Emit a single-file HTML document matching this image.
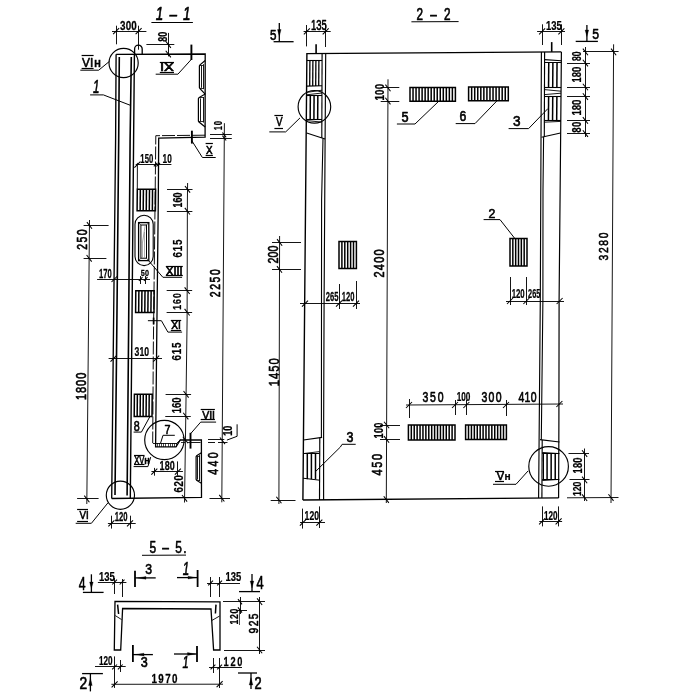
<!DOCTYPE html>
<html lang="ru">
<head>
<meta charset="utf-8">
<title>1-1, 2-2, 5-5</title>
<style>
html,body{margin:0;padding:0;background:#fff;}
body{width:700px;height:700px;overflow:hidden;}
svg{display:block;}
svg text{font-family:"Liberation Sans", "DejaVu Sans", sans-serif;fill:#050505;stroke:#050505;font-weight:bold;stroke-width:0.25px;stroke-linejoin:round;}
</style>
</head>
<body>
<svg width="700" height="700" viewBox="0 0 700 700" stroke="#050505" stroke-linecap="butt" fill="none">
<defs><filter id="sc" x="0" y="0" width="700" height="700" filterUnits="userSpaceOnUse"><feGaussianBlur stdDeviation="0.22"/></filter></defs>
<rect x="0" y="0" width="700" height="700" fill="#ffffff" stroke="none"/>
<g filter="url(#sc)">
<text transform="translate(156.4,20.3) scale(0.75,1)" x="-0.81" y="0" style="font-size:18.02px;font-weight:normal;stroke-width:0.65px;font-style:italic;letter-spacing:1.59px;">1 – 1</text>
<line x1="151.4" y1="22.5" x2="192.9" y2="22.5" stroke-width="1"/>
<path d="M116.1,54.3 L115.6,140 L113.6,320 L111.7,498.5" stroke-width="1.35" fill="none"/>
<path d="M119.3,57.1 L118.7,140 L116.9,320 L115,495.1" stroke-width="1.6" fill="none"/>
<path d="M131.3,57.1 L130.1,140 L128.7,320 L127.1,495.4" stroke-width="1.6" fill="none"/>
<path d="M134.4,54.3 L133.6,140 L132,320 L130.3,498.5" stroke-width="1.4" fill="none"/>
<path d="M116.1,54.3 L205.2,54 L205.1,137.2 L158.7,138.2 L158.3,200 L156.6,350 L155.6,446.9 L176,446.9 L180.3,440 L201.4,439.8 L201.5,497.4 L111.7,498.5" stroke-width="1.3" fill="none"/>
<path d="M205,135.2 L155.8,135.7 L155.1,200 L153.3,350 L152.7,443" stroke-width="0.95" fill="none" stroke-dasharray="13 2"/>
<line x1="152.9" y1="443.5" x2="177" y2="443.5" stroke-width="0.9"/>
<line x1="177" y1="443" x2="180.3" y2="440" stroke-width="0.9"/>
<line x1="157.5" y1="443" x2="157.5" y2="446.9" stroke-width="0.7"/>
<line x1="159.5" y1="443" x2="159.5" y2="446.9" stroke-width="0.7"/>
<line x1="161.5" y1="443" x2="161.5" y2="446.9" stroke-width="0.7"/>
<line x1="163.5" y1="443" x2="163.5" y2="446.9" stroke-width="0.7"/>
<line x1="165.5" y1="443" x2="165.5" y2="446.9" stroke-width="0.7"/>
<line x1="168.5" y1="443" x2="168.5" y2="446.9" stroke-width="0.7"/>
<line x1="170.5" y1="443" x2="170.5" y2="446.9" stroke-width="0.7"/>
<line x1="172.5" y1="443" x2="172.5" y2="446.9" stroke-width="0.7"/>
<line x1="174.5" y1="443" x2="174.5" y2="446.9" stroke-width="0.7"/>
<line x1="176.5" y1="443" x2="176.5" y2="446.9" stroke-width="0.7"/>
<line x1="190.7" y1="442.5" x2="200.6" y2="442.5" stroke-width="0.9"/>
<line x1="181" y1="442.5" x2="190" y2="442.5" stroke-width="0.8" stroke-dasharray="4 2"/>
<path d="M134.6,54.3 V49 a3.8,3.9 0 0 1 7.6,0 V54.3" stroke-width="1.3" fill="none"/>
<line x1="191.4" y1="44.6" x2="191.4" y2="60" stroke-width="1.9"/>
<line x1="191.9" y1="130.7" x2="191.9" y2="143.6" stroke-width="1.9"/>
<line x1="190.5" y1="432.8" x2="190.5" y2="448.6" stroke-width="1.9"/>
<line x1="153.6" y1="317.6" x2="153.6" y2="324.4" stroke-width="1.7"/>
<path d="M205.2,60.5 L200,64.8 L199.4,65.8 L199.4,87.6 L200,88.6 L205.2,94.1" stroke-width="1.2" fill="none"/>
<line x1="201.5" y1="65.6" x2="201.5" y2="87.8" stroke-width="0.9"/>
<line x1="203.5" y1="64.2" x2="203.5" y2="89.2" stroke-width="0.9"/>
<line x1="200" y1="65.5" x2="203.4" y2="65.5" stroke-width="0.8"/>
<line x1="200" y1="88.5" x2="203.4" y2="88.5" stroke-width="0.8"/>
<path d="M205.2,93.9 L199,97.6 L198.4,98.6 L198.4,121 L199,122 L205.2,127" stroke-width="1.2" fill="none"/>
<line x1="200.5" y1="98.4" x2="200.5" y2="121.2" stroke-width="0.9"/>
<line x1="203.5" y1="97" x2="203.5" y2="122.6" stroke-width="0.9"/>
<line x1="199" y1="97.5" x2="203.4" y2="97.5" stroke-width="0.8"/>
<line x1="199" y1="121.5" x2="203.4" y2="121.5" stroke-width="0.8"/>
<path d="M201.4,452.8 L196.7,455.7 L196.1,456.7 L196.1,479.4 L196.7,480.4 L201.4,483.2" stroke-width="1.2" fill="none"/>
<line x1="197.5" y1="456.5" x2="197.5" y2="479.6" stroke-width="0.9"/>
<line x1="199.5" y1="455.1" x2="199.5" y2="481" stroke-width="0.9"/>
<line x1="196.7" y1="456.5" x2="199.6" y2="456.5" stroke-width="0.8"/>
<line x1="196.7" y1="480.5" x2="199.6" y2="480.5" stroke-width="0.8"/>
<circle cx="123.6" cy="63" r="14.6" stroke-width="1.15" fill="none"/>
<circle cx="120.4" cy="495.2" r="14.1" stroke-width="1.15" fill="none"/>
<circle cx="164.4" cy="440" r="19.7" stroke-width="1.15" fill="none"/>
<rect x="135" y="215.2" width="18.2" height="50.4" rx="9.1" ry="9.1" stroke-width="1.1" fill="none"/>
<rect x="138.6" y="222.6" width="10.2" height="38" stroke-width="1.3" fill="none"/>
<rect x="140.9" y="225" width="5.6" height="33.2" stroke-width="1.0" fill="none"/>
<line x1="145.2" y1="225.4" x2="142.4" y2="243" stroke-width="0.6" stroke="#666"/>
<line x1="142.5" y1="243" x2="142.5" y2="257.6" stroke-width="0.6" stroke="#777"/>
<line x1="144.5" y1="232" x2="144.5" y2="257.6" stroke-width="0.6" stroke="#777"/>
<line x1="138.6" y1="222.6" x2="140.7" y2="224.8" stroke-width="0.7"/>
<line x1="148.8" y1="222.6" x2="146.7" y2="224.8" stroke-width="0.7"/>
<line x1="138.6" y1="260.6" x2="140.7" y2="258.4" stroke-width="0.7"/>
<line x1="148.8" y1="260.6" x2="146.7" y2="258.4" stroke-width="0.7"/>
<line x1="140.35" y1="189.3" x2="140.15" y2="210.8" stroke-width="1.5"/>
<line x1="143.4" y1="189.3" x2="143.2" y2="210.8" stroke-width="1.5"/>
<line x1="146.45" y1="189.3" x2="146.25" y2="210.8" stroke-width="1.5"/>
<line x1="149.5" y1="189.3" x2="149.3" y2="210.8" stroke-width="1.5"/>
<line x1="152.55" y1="189.3" x2="152.35" y2="210.8" stroke-width="1.5"/>
<path d="M137.3,189.3 L155.6,189.3 L155.4,210.8 L137.1,210.8 Z" stroke-width="1.5" fill="none"/>
<line x1="138.87" y1="290.7" x2="138.67" y2="312.4" stroke-width="1.5"/>
<line x1="141.93" y1="290.7" x2="141.73" y2="312.4" stroke-width="1.5"/>
<line x1="145" y1="290.7" x2="144.8" y2="312.4" stroke-width="1.5"/>
<line x1="148.07" y1="290.7" x2="147.87" y2="312.4" stroke-width="1.5"/>
<line x1="151.13" y1="290.7" x2="150.93" y2="312.4" stroke-width="1.5"/>
<path d="M135.8,290.7 L154.2,290.7 L154,312.4 L135.6,312.4 Z" stroke-width="1.5" fill="none"/>
<line x1="137.37" y1="394.3" x2="137.17" y2="416.4" stroke-width="1.5"/>
<line x1="140.33" y1="394.3" x2="140.13" y2="416.4" stroke-width="1.5"/>
<line x1="143.3" y1="394.3" x2="143.1" y2="416.4" stroke-width="1.5"/>
<line x1="146.27" y1="394.3" x2="146.07" y2="416.4" stroke-width="1.5"/>
<line x1="149.23" y1="394.3" x2="149.03" y2="416.4" stroke-width="1.5"/>
<path d="M134.4,394.3 L152.2,394.3 L152,416.4 L134.2,416.4 Z" stroke-width="1.5" fill="none"/>
<line x1="112" y1="31.5" x2="146.4" y2="31.5" stroke-width="0.92"/>
<line x1="116.5" y1="25.7" x2="116.5" y2="44.3" stroke-width="0.92"/>
<line x1="138.5" y1="25.7" x2="138.5" y2="49.7" stroke-width="0.92"/>
<line x1="113.1" y1="34.1" x2="119.1" y2="28.1" stroke-width="1.05"/>
<line x1="135.6" y1="34.1" x2="141.6" y2="28.1" stroke-width="1.05"/>
<text transform="translate(120.4,30) scale(0.75,1)" x="-0.59" y="0" style="font-size:13.13px;font-weight:bold;letter-spacing:0.31px;">300</text>
<line x1="168.5" y1="32.9" x2="168.5" y2="56.4" stroke-width="0.92"/>
<line x1="146.4" y1="44.5" x2="174.3" y2="44.5" stroke-width="0.92"/>
<line x1="165.75" y1="41.3" x2="170.85" y2="47.9" stroke-width="1.05"/>
<line x1="165.75" y1="50.8" x2="170.85" y2="57.4" stroke-width="1.05"/>
<text transform="translate(166.7,41.4) rotate(-90) scale(0.75,1)" x="-0.54" y="0" style="font-size:12.01px;font-weight:bold;letter-spacing:0.12px;">80</text>
<text transform="translate(160.6,71.2) scale(1.32,1)" x="-0.5" y="0" style="font-size:11.17px;font-weight:normal;stroke-width:0.6px;">IX</text>
<line x1="159.8" y1="62.5" x2="174" y2="62.5" stroke-width="1.2"/>
<line x1="159.8" y1="72.5" x2="174" y2="72.5" stroke-width="1.2"/>
<path d="M155.7,74.2 L177.9,74.2 L191.4,59.3" stroke-width="1" fill="none"/>
<text transform="translate(82.6,66.6) scale(0.97,1)" x="-0.55" y="0" style="font-size:12.29px;font-weight:normal;stroke-width:0.6px;">VI</text>
<line x1="81.6" y1="55.5" x2="93.6" y2="55.5" stroke-width="1.2"/>
<line x1="81.6" y1="68.5" x2="93.6" y2="68.5" stroke-width="1.2"/>
<text transform="translate(94.4,66.9) scale(0.86,1)" x="-0.61" y="0" style="font-size:13.58px;font-weight:bold;">н</text>
<path d="M80.3,70.2 L98.7,70.2 L109.4,61.4" stroke-width="1" fill="none"/>
<text transform="translate(93.4,93.4) scale(0.65,1)" x="-0.8" y="0" style="font-size:17.88px;font-weight:normal;stroke-width:0.65px;font-style:italic;">1</text>
<path d="M90.1,94.9 L103.4,94.9 L130.6,105.4" stroke-width="1" fill="none"/>
<text transform="translate(206.4,153.9) scale(0.85,1)" x="-0.52" y="0" style="font-size:11.59px;font-weight:normal;stroke-width:0.6px;">X</text>
<line x1="205.6" y1="143.5" x2="212.9" y2="143.5" stroke-width="1.2"/>
<line x1="205.6" y1="155.5" x2="212.9" y2="155.5" stroke-width="1.2"/>
<path d="M215.7,157.5 L202.4,157.5 L192,141" stroke-width="1" fill="none"/>
<text transform="translate(221.7,130) rotate(-90) scale(0.75,1)" x="-0.45" y="0" style="font-size:10.06px;font-weight:bold;letter-spacing:1.19px;">10</text>
<line x1="210" y1="134.5" x2="231.8" y2="134.5" stroke-width="0.92"/>
<line x1="210" y1="138.5" x2="231.8" y2="138.5" stroke-width="0.92"/>
<line x1="222.43" y1="132.48" x2="226.17" y2="137.32" stroke-width="1.05"/>
<line x1="222.43" y1="135.68" x2="226.17" y2="140.52" stroke-width="1.05"/>
<line x1="224.4" y1="123.2" x2="221.8" y2="502.3" stroke-width="0.92"/>
<text transform="translate(220,296.7) rotate(-90) scale(0.75,1)" x="-0.62" y="0" style="font-size:13.83px;font-weight:normal;stroke-width:0.65px;letter-spacing:2.16px;">2250</text>
<line x1="135.7" y1="164.5" x2="171.4" y2="164.5" stroke-width="0.92"/>
<line x1="137.4" y1="162.9" x2="137.3" y2="189.3" stroke-width="0.92"/>
<line x1="134.4" y1="167.6" x2="140.4" y2="161.6" stroke-width="1.05"/>
<line x1="153.8" y1="166.4" x2="157.4" y2="162.8" stroke-width="1.05"/>
<line x1="156.4" y1="166.4" x2="160" y2="162.8" stroke-width="1.05"/>
<text transform="translate(140.7,163.2) scale(0.59,1)" x="-0.59" y="0" style="font-size:13.13px;font-weight:bold;">150</text>
<text transform="translate(162.9,163.2) scale(0.63,1)" x="-0.59" y="0" style="font-size:13.13px;font-weight:bold;">10</text>
<path d="M187.6,183 L187.4,200 L187.1,320 L186,400 L185,470 L184.5,502.5" stroke-width="0.92" fill="none"/>
<line x1="167.03" y1="189.5" x2="192.53" y2="189.5" stroke-width="0.92"/>
<line x1="184.98" y1="186" x2="190.08" y2="192.6" stroke-width="1.05"/>
<line x1="166.87" y1="211.5" x2="192.37" y2="211.5" stroke-width="0.92"/>
<line x1="184.82" y1="207.9" x2="189.92" y2="214.5" stroke-width="1.05"/>
<line x1="166.67" y1="290.5" x2="192.17" y2="290.5" stroke-width="0.92"/>
<line x1="184.62" y1="287.4" x2="189.72" y2="294" stroke-width="1.05"/>
<line x1="166.62" y1="312.5" x2="192.12" y2="312.5" stroke-width="0.92"/>
<line x1="184.57" y1="308.9" x2="189.67" y2="315.5" stroke-width="1.05"/>
<line x1="165.58" y1="394.5" x2="191.08" y2="394.5" stroke-width="0.92"/>
<line x1="183.53" y1="391" x2="188.63" y2="397.6" stroke-width="1.05"/>
<line x1="165.27" y1="416.5" x2="190.77" y2="416.5" stroke-width="0.92"/>
<line x1="183.22" y1="412.8" x2="188.32" y2="419.4" stroke-width="1.05"/>
<line x1="182.88" y1="436.7" x2="187.98" y2="443.3" stroke-width="1.05"/>
<line x1="182.01" y1="495" x2="187.11" y2="501.6" stroke-width="1.05"/>
<text transform="translate(182.4,207.1) rotate(-90) scale(0.75,1)" x="-0.54" y="0" style="font-size:12.01px;font-weight:bold;">160</text>
<text transform="translate(181.7,257.1) rotate(-90) scale(0.75,1)" x="-0.58" y="0" style="font-size:12.99px;font-weight:bold;letter-spacing:1.15px;">615</text>
<text transform="translate(181.1,309.3) rotate(-90) scale(0.75,1)" x="-0.53" y="0" style="font-size:11.73px;font-weight:bold;letter-spacing:1.21px;">160</text>
<text transform="translate(181,360) rotate(-90) scale(0.75,1)" x="-0.59" y="0" style="font-size:13.13px;font-weight:bold;letter-spacing:1.04px;">615</text>
<text transform="translate(181.3,412.9) rotate(-90) scale(0.74,1)" x="-0.58" y="0" style="font-size:12.85px;font-weight:bold;">160</text>
<text transform="translate(182.9,492.1) rotate(-90) scale(0.75,1)" x="-0.57" y="0" style="font-size:12.71px;font-weight:bold;letter-spacing:0.91px;">620</text>
<text transform="translate(166.6,274.6) scale(1.09,1)" x="-0.45" y="0" style="font-size:10.06px;font-weight:normal;stroke-width:0.6px;">XIII</text>
<line x1="165.8" y1="266.5" x2="182.8" y2="266.5" stroke-width="1.2"/>
<line x1="165.8" y1="275.5" x2="182.8" y2="275.5" stroke-width="1.2"/>
<path d="M182.1,277.3 L162.9,277.3 L148.6,260.7" stroke-width="1" fill="none"/>
<line x1="89.5" y1="220" x2="86.8" y2="504" stroke-width="0.92"/>
<line x1="83.6" y1="225.5" x2="108.6" y2="225.5" stroke-width="0.92"/>
<line x1="83.6" y1="258.5" x2="106.4" y2="258.5" stroke-width="0.92"/>
<line x1="77.1" y1="498.5" x2="98.6" y2="498.5" stroke-width="0.92"/>
<line x1="86.9" y1="222.1" x2="92" y2="228.7" stroke-width="1.05"/>
<line x1="86.59" y1="255" x2="91.69" y2="261.6" stroke-width="1.05"/>
<line x1="84.3" y1="495.6" x2="89.4" y2="502.2" stroke-width="1.05"/>
<text transform="translate(87.4,249.3) rotate(-90) scale(0.75,1)" x="-0.63" y="0" style="font-size:13.97px;font-weight:normal;stroke-width:0.65px;letter-spacing:1.85px;">250</text>
<text transform="translate(86.3,399.6) rotate(-90) scale(0.75,1)" x="-0.66" y="0" style="font-size:14.66px;font-weight:normal;stroke-width:0.65px;letter-spacing:1.3px;">1800</text>
<line x1="97.1" y1="279.5" x2="150" y2="279.5" stroke-width="0.92"/>
<line x1="111.5" y1="282" x2="117.5" y2="276" stroke-width="1.05"/>
<line x1="138.9" y1="280.8" x2="142.5" y2="277.2" stroke-width="1.05"/>
<line x1="143.9" y1="280.8" x2="147.5" y2="277.2" stroke-width="1.05"/>
<line x1="140.5" y1="276" x2="140.5" y2="284" stroke-width="0.92"/>
<line x1="145.5" y1="276" x2="145.5" y2="284" stroke-width="0.92"/>
<text transform="translate(99.3,278.2) scale(0.58,1)" x="-0.59" y="0" style="font-size:13.13px;font-weight:bold;">170</text>
<text transform="translate(141.1,276) scale(0.75,1)" x="-0.43" y="0" style="font-size:9.64px;font-weight:bold;letter-spacing:0.15px;">50</text>
<text transform="translate(171.6,329) scale(0.97,1)" x="-0.48" y="0" style="font-size:10.61px;font-weight:normal;stroke-width:0.6px;">XI</text>
<line x1="170.8" y1="320.5" x2="181.2" y2="320.5" stroke-width="1.2"/>
<line x1="170.8" y1="330.5" x2="181.2" y2="330.5" stroke-width="1.2"/>
<path d="M182.1,332.1 L167.9,332.1 L161.4,320.7 L147.9,320.7" stroke-width="1" fill="none"/>
<line x1="108.6" y1="358.5" x2="162" y2="358.5" stroke-width="0.92"/>
<line x1="110.5" y1="361.6" x2="116.5" y2="355.6" stroke-width="1.05"/>
<line x1="153.2" y1="361.6" x2="159.2" y2="355.6" stroke-width="1.05"/>
<text transform="translate(135,356) scale(0.72,1)" x="-0.54" y="0" style="font-size:12.01px;font-weight:bold;">310</text>
<text transform="translate(134.3,431) scale(0.76,1)" x="-0.63" y="0" style="font-size:14.11px;font-weight:normal;stroke-width:0.65px;">8</text>
<path d="M133.6,432.1 L141.4,432.1 L150,416.4" stroke-width="1" fill="none"/>
<text transform="translate(165,433.9) scale(0.82,1)" x="-0.59" y="0" style="font-size:13.13px;font-weight:normal;stroke-width:0.65px;">7</text>
<path d="M174.8,435.3 L163,435.3 L160.6,443" stroke-width="1" fill="none"/>
<text transform="translate(202.6,418.6) scale(1.05,1)" x="-0.45" y="0" style="font-size:10.06px;font-weight:normal;stroke-width:0.6px;">VII</text>
<line x1="200.7" y1="409.5" x2="214.9" y2="409.5" stroke-width="1.2"/>
<line x1="200.7" y1="419.5" x2="214.9" y2="419.5" stroke-width="1.2"/>
<path d="M216.1,422.1 L200.7,422.1 L190.7,433.6" stroke-width="1" fill="none"/>
<text transform="translate(232.3,435.4) rotate(-90) scale(0.74,1)" x="-0.56" y="0" style="font-size:12.43px;font-weight:bold;">10</text>
<path d="M237.1,424.3 L237.1,436.3 L226.9,440.1" stroke-width="1" fill="none"/>
<line x1="208" y1="439.5" x2="224.3" y2="439.5" stroke-width="0.92"/>
<line x1="208" y1="442.5" x2="215" y2="442.5" stroke-width="0.92"/>
<line x1="218" y1="442.5" x2="227.5" y2="442.5" stroke-width="0.92"/>
<line x1="219.95" y1="437.5" x2="225.05" y2="444.1" stroke-width="1.05"/>
<text transform="translate(218.2,474.3) rotate(-90) scale(0.75,1)" x="-0.63" y="0" style="font-size:14.11px;font-weight:normal;stroke-width:0.65px;letter-spacing:3.14px;">440</text>
<line x1="209.5" y1="498.5" x2="230" y2="498.5" stroke-width="0.92"/>
<line x1="219.25" y1="494.9" x2="224.35" y2="501.5" stroke-width="1.05"/>
<text transform="translate(134.6,464) scale(0.68,1)" x="-0.5" y="0" style="font-size:11.17px;font-weight:normal;stroke-width:0.6px;">XV</text>
<line x1="134" y1="455.5" x2="144.5" y2="455.5" stroke-width="1.2"/>
<line x1="134" y1="464.5" x2="144.5" y2="464.5" stroke-width="1.2"/>
<text transform="translate(144.6,464.3) scale(0.89,1)" x="-0.46" y="0" style="font-size:10.19px;font-weight:bold;">н</text>
<path d="M133.6,466.6 L147.9,466.6 L150.7,457.1" stroke-width="1" fill="none"/>
<line x1="151.4" y1="471.5" x2="182.9" y2="471.5" stroke-width="0.92"/>
<line x1="154.5" y1="467.9" x2="154.5" y2="475.7" stroke-width="0.92"/>
<line x1="177.5" y1="461.4" x2="177.5" y2="475.7" stroke-width="0.92"/>
<line x1="151.3" y1="474.7" x2="157.3" y2="468.7" stroke-width="1.05"/>
<line x1="174.9" y1="474.7" x2="180.9" y2="468.7" stroke-width="1.05"/>
<text transform="translate(160,470.3) scale(0.69,1)" x="-0.59" y="0" style="font-size:13.13px;font-weight:bold;">180</text>
<text transform="translate(80,519.3) scale(0.91,1)" x="-0.48" y="0" style="font-size:10.75px;font-weight:normal;stroke-width:0.6px;">VI</text>
<line x1="77.1" y1="509.5" x2="88" y2="509.5" stroke-width="1.2"/>
<line x1="77.1" y1="521.5" x2="88" y2="521.5" stroke-width="1.2"/>
<path d="M75.7,523.3 L91.4,523.3 L107.9,502.9" stroke-width="1" fill="none"/>
<line x1="107.9" y1="523.5" x2="135.7" y2="523.5" stroke-width="0.92"/>
<line x1="111.5" y1="515.7" x2="111.5" y2="528.6" stroke-width="0.92"/>
<line x1="130.5" y1="515.7" x2="130.5" y2="528.6" stroke-width="0.92"/>
<line x1="108.4" y1="526.3" x2="114.4" y2="520.3" stroke-width="1.05"/>
<line x1="127" y1="526.3" x2="133" y2="520.3" stroke-width="1.05"/>
<text transform="translate(115,521) scale(0.64,1)" x="-0.54" y="0" style="font-size:12.01px;font-weight:bold;">120</text>
<text transform="translate(417.1,19.6) scale(0.75,1)" x="-0.7" y="0" style="font-size:15.64px;font-weight:normal;stroke-width:0.65px;letter-spacing:2.62px;">2 – 2</text>
<line x1="411.4" y1="21.8" x2="458.6" y2="21.6" stroke-width="1"/>
<path d="M302.9,500 L306.9,53.6 L561.4,51.9" stroke-width="1.4" fill="none"/>
<path d="M561.4,51.9 L560.7,130 L559.1,300 L558.9,420 L558.6,497.9" stroke-width="1.2" fill="none"/>
<path d="M558.6,497.9 L302.9,500" stroke-width="1.4" fill="none"/>
<path d="M325.7,53.6 L325.1,140 L324.1,300 L323.6,437 L323.6,500" stroke-width="1.15" fill="none"/>
<line x1="322.1" y1="53.6" x2="321.8" y2="138" stroke-width="1.15"/>
<path d="M323,138.5 L321.6,200 L321.5,300 L321.4,437.4" stroke-width="1.1" fill="none"/>
<line x1="319.8" y1="437.8" x2="319.5" y2="500" stroke-width="1.15"/>
<path d="M541.4,52 L540.3,300 L538.6,498" stroke-width="1.15" fill="none"/>
<line x1="544.6" y1="52" x2="544.3" y2="137" stroke-width="1.15"/>
<path d="M543.6,137 L543,190 L542.9,300 L541.3,439.8" stroke-width="1.1" fill="none"/>
<line x1="542.2" y1="440" x2="541.9" y2="498" stroke-width="1.15"/>
<line x1="306.9" y1="60.5" x2="322.1" y2="60.5" stroke-width="1.1"/>
<line x1="309.9" y1="60.9" x2="309.7" y2="86.1" stroke-width="1.3"/>
<line x1="312.9" y1="60.9" x2="312.7" y2="86.1" stroke-width="1.3"/>
<line x1="315.9" y1="60.9" x2="315.7" y2="86.1" stroke-width="1.3"/>
<line x1="318.9" y1="60.9" x2="318.7" y2="86.1" stroke-width="1.3"/>
<line x1="306.7" y1="86.1" x2="322" y2="85.8" stroke-width="1.1"/>
<line x1="306.7" y1="92.4" x2="322" y2="90.2" stroke-width="0.9"/>
<line x1="306.6" y1="94.8" x2="322" y2="93" stroke-width="0.9"/>
<line x1="306.6" y1="95.5" x2="322" y2="95.5" stroke-width="1.1"/>
<line x1="310.35" y1="95.4" x2="310.15" y2="119.5" stroke-width="1.5"/>
<line x1="314.1" y1="95.4" x2="313.9" y2="119.5" stroke-width="1.5"/>
<line x1="317.85" y1="95.4" x2="317.65" y2="119.5" stroke-width="1.5"/>
<line x1="306.4" y1="119.5" x2="322" y2="119.5" stroke-width="1.1"/>
<line x1="306.6" y1="120.6" x2="321.8" y2="122.1" stroke-width="0.9"/>
<line x1="306.7" y1="133" x2="325.1" y2="139" stroke-width="1.1"/>
<line x1="544.6" y1="59.6" x2="561.3" y2="60.8" stroke-width="1.1"/>
<line x1="544.6" y1="62.5" x2="561.3" y2="62.5" stroke-width="1"/>
<line x1="548.75" y1="62.2" x2="548.55" y2="87.4" stroke-width="1.5"/>
<line x1="552.9" y1="62.2" x2="552.7" y2="87.4" stroke-width="1.5"/>
<line x1="557.05" y1="62.2" x2="556.85" y2="87.4" stroke-width="1.5"/>
<line x1="544.5" y1="87.5" x2="561.1" y2="87.5" stroke-width="1.1"/>
<line x1="544.5" y1="89.6" x2="561" y2="91.2" stroke-width="0.9"/>
<line x1="544.5" y1="94.6" x2="561" y2="93.2" stroke-width="0.9"/>
<line x1="544.5" y1="96.5" x2="561" y2="96.5" stroke-width="1.1"/>
<line x1="548.62" y1="96.2" x2="548.42" y2="120.6" stroke-width="1.5"/>
<line x1="552.75" y1="96.2" x2="552.55" y2="120.6" stroke-width="1.5"/>
<line x1="556.88" y1="96.2" x2="556.67" y2="120.6" stroke-width="1.5"/>
<line x1="544.4" y1="120.5" x2="560.9" y2="120.5" stroke-width="1.1"/>
<line x1="544.4" y1="122.2" x2="560.9" y2="121.4" stroke-width="0.9"/>
<line x1="541.5" y1="137.2" x2="560.5" y2="133" stroke-width="1.1"/>
<line x1="303.4" y1="440" x2="322.1" y2="437.4" stroke-width="1.1"/>
<line x1="303.2" y1="453.6" x2="319.6" y2="451.6" stroke-width="0.9"/>
<line x1="307.3" y1="453.3" x2="307.3" y2="479.2" stroke-width="1.5"/>
<line x1="311.4" y1="453.3" x2="311.4" y2="479.2" stroke-width="1.5"/>
<line x1="315.5" y1="453.3" x2="315.5" y2="479.2" stroke-width="1.5"/>
<line x1="303.2" y1="453.5" x2="319.6" y2="453.5" stroke-width="1"/>
<line x1="303" y1="478.2" x2="319.6" y2="480.2" stroke-width="1"/>
<line x1="540" y1="439.6" x2="559.5" y2="442" stroke-width="1.1"/>
<line x1="542.2" y1="453.5" x2="559.3" y2="453.5" stroke-width="1"/>
<line x1="542.2" y1="452.4" x2="559.3" y2="453.6" stroke-width="0.9"/>
<line x1="547.08" y1="453.6" x2="547.08" y2="479" stroke-width="1.5"/>
<line x1="551.15" y1="453.6" x2="551.15" y2="479" stroke-width="1.5"/>
<line x1="555.22" y1="453.6" x2="555.22" y2="479" stroke-width="1.5"/>
<line x1="543.5" y1="453.6" x2="543.5" y2="479" stroke-width="1"/>
<line x1="542.2" y1="479.5" x2="559.2" y2="479.5" stroke-width="1"/>
<line x1="542.2" y1="480.6" x2="559.2" y2="479.4" stroke-width="0.9"/>
<line x1="316.1" y1="44.3" x2="316.1" y2="53.6" stroke-width="1.6"/>
<line x1="551.7" y1="42.1" x2="551.7" y2="51.9" stroke-width="1.6"/>
<circle cx="314.4" cy="106.8" r="16.3" stroke-width="1.15" fill="none"/>
<circle cx="548.6" cy="466.4" r="19.8" stroke-width="1.15" fill="none"/>
<line x1="413.03" y1="87.4" x2="413.03" y2="101.2" stroke-width="1.5"/>
<line x1="416.05" y1="87.4" x2="416.05" y2="101.2" stroke-width="1.5"/>
<line x1="419.08" y1="87.4" x2="419.08" y2="101.2" stroke-width="1.5"/>
<line x1="422.11" y1="87.4" x2="422.11" y2="101.2" stroke-width="1.5"/>
<line x1="425.13" y1="87.4" x2="425.13" y2="101.2" stroke-width="1.5"/>
<line x1="428.16" y1="87.4" x2="428.16" y2="101.2" stroke-width="1.5"/>
<line x1="431.19" y1="87.4" x2="431.19" y2="101.2" stroke-width="1.5"/>
<line x1="434.21" y1="87.4" x2="434.21" y2="101.2" stroke-width="1.5"/>
<line x1="437.24" y1="87.4" x2="437.24" y2="101.2" stroke-width="1.5"/>
<line x1="440.27" y1="87.4" x2="440.27" y2="101.2" stroke-width="1.5"/>
<line x1="443.29" y1="87.4" x2="443.29" y2="101.2" stroke-width="1.5"/>
<line x1="446.32" y1="87.4" x2="446.32" y2="101.2" stroke-width="1.5"/>
<line x1="449.35" y1="87.4" x2="449.35" y2="101.2" stroke-width="1.5"/>
<line x1="452.37" y1="87.4" x2="452.37" y2="101.2" stroke-width="1.5"/>
<path d="M410,87.4 L455.4,87.4 L455.4,101.2 L410,101.2 Z" stroke-width="1.5" fill="none"/>
<line x1="471.65" y1="87.1" x2="471.65" y2="100.8" stroke-width="1.5"/>
<line x1="474.71" y1="87.1" x2="474.71" y2="100.8" stroke-width="1.5"/>
<line x1="477.76" y1="87.1" x2="477.76" y2="100.8" stroke-width="1.5"/>
<line x1="480.82" y1="87.1" x2="480.82" y2="100.8" stroke-width="1.5"/>
<line x1="483.87" y1="87.1" x2="483.87" y2="100.8" stroke-width="1.5"/>
<line x1="486.92" y1="87.1" x2="486.92" y2="100.8" stroke-width="1.5"/>
<line x1="489.98" y1="87.1" x2="489.98" y2="100.8" stroke-width="1.5"/>
<line x1="493.03" y1="87.1" x2="493.03" y2="100.8" stroke-width="1.5"/>
<line x1="496.08" y1="87.1" x2="496.08" y2="100.8" stroke-width="1.5"/>
<line x1="499.14" y1="87.1" x2="499.14" y2="100.8" stroke-width="1.5"/>
<line x1="502.19" y1="87.1" x2="502.19" y2="100.8" stroke-width="1.5"/>
<line x1="505.25" y1="87.1" x2="505.25" y2="100.8" stroke-width="1.5"/>
<path d="M468.6,87.1 L508.3,87.1 L508.3,100.8 L468.6,100.8 Z" stroke-width="1.5" fill="none"/>
<line x1="341.9" y1="241.4" x2="341.9" y2="268.6" stroke-width="1.5"/>
<line x1="344.8" y1="241.4" x2="344.8" y2="268.6" stroke-width="1.5"/>
<line x1="347.7" y1="241.4" x2="347.7" y2="268.6" stroke-width="1.5"/>
<line x1="350.6" y1="241.4" x2="350.6" y2="268.6" stroke-width="1.5"/>
<line x1="353.5" y1="241.4" x2="353.5" y2="268.6" stroke-width="1.5"/>
<path d="M339,241.4 L356.4,241.4 L356.4,268.6 L339,268.6 Z" stroke-width="1.5" fill="none"/>
<line x1="512.83" y1="238.6" x2="512.83" y2="266" stroke-width="1.5"/>
<line x1="515.67" y1="238.6" x2="515.67" y2="266" stroke-width="1.5"/>
<line x1="518.5" y1="238.6" x2="518.5" y2="266" stroke-width="1.5"/>
<line x1="521.33" y1="238.6" x2="521.33" y2="266" stroke-width="1.5"/>
<line x1="524.17" y1="238.6" x2="524.17" y2="266" stroke-width="1.5"/>
<path d="M510,238.6 L527,238.6 L527,266 L510,266 Z" stroke-width="1.5" fill="none"/>
<line x1="411.31" y1="425" x2="411.31" y2="440" stroke-width="1.5"/>
<line x1="414.22" y1="425" x2="414.22" y2="440" stroke-width="1.5"/>
<line x1="417.14" y1="425" x2="417.14" y2="440" stroke-width="1.5"/>
<line x1="420.05" y1="425" x2="420.05" y2="440" stroke-width="1.5"/>
<line x1="422.96" y1="425" x2="422.96" y2="440" stroke-width="1.5"/>
<line x1="425.88" y1="425" x2="425.88" y2="440" stroke-width="1.5"/>
<line x1="428.79" y1="425" x2="428.79" y2="440" stroke-width="1.5"/>
<line x1="431.7" y1="425" x2="431.7" y2="440" stroke-width="1.5"/>
<line x1="434.61" y1="425" x2="434.61" y2="440" stroke-width="1.5"/>
<line x1="437.52" y1="425" x2="437.52" y2="440" stroke-width="1.5"/>
<line x1="440.44" y1="425" x2="440.44" y2="440" stroke-width="1.5"/>
<line x1="443.35" y1="425" x2="443.35" y2="440" stroke-width="1.5"/>
<line x1="446.26" y1="425" x2="446.26" y2="440" stroke-width="1.5"/>
<line x1="449.18" y1="425" x2="449.18" y2="440" stroke-width="1.5"/>
<line x1="452.09" y1="425" x2="452.09" y2="440" stroke-width="1.5"/>
<path d="M408.4,425 L455,425 L455,440 L408.4,440 Z" stroke-width="1.5" fill="none"/>
<line x1="468.51" y1="425" x2="468.51" y2="439.6" stroke-width="1.5"/>
<line x1="471.43" y1="425" x2="471.43" y2="439.6" stroke-width="1.5"/>
<line x1="474.34" y1="425" x2="474.34" y2="439.6" stroke-width="1.5"/>
<line x1="477.26" y1="425" x2="477.26" y2="439.6" stroke-width="1.5"/>
<line x1="480.17" y1="425" x2="480.17" y2="439.6" stroke-width="1.5"/>
<line x1="483.09" y1="425" x2="483.09" y2="439.6" stroke-width="1.5"/>
<line x1="486" y1="425" x2="486" y2="439.6" stroke-width="1.5"/>
<line x1="488.91" y1="425" x2="488.91" y2="439.6" stroke-width="1.5"/>
<line x1="491.83" y1="425" x2="491.83" y2="439.6" stroke-width="1.5"/>
<line x1="494.74" y1="425" x2="494.74" y2="439.6" stroke-width="1.5"/>
<line x1="497.66" y1="425" x2="497.66" y2="439.6" stroke-width="1.5"/>
<line x1="500.57" y1="425" x2="500.57" y2="439.6" stroke-width="1.5"/>
<line x1="503.49" y1="425" x2="503.49" y2="439.6" stroke-width="1.5"/>
<path d="M465.6,425 L506.4,425 L506.4,439.6 L465.6,439.6 Z" stroke-width="1.5" fill="none"/>
<line x1="303.6" y1="31.5" x2="330.7" y2="31.5" stroke-width="0.92"/>
<line x1="306.5" y1="25" x2="306.5" y2="46.4" stroke-width="0.92"/>
<line x1="325.5" y1="25" x2="325.5" y2="47" stroke-width="0.92"/>
<line x1="303.9" y1="34.4" x2="309.9" y2="28.4" stroke-width="1.05"/>
<line x1="322.7" y1="34.4" x2="328.7" y2="28.4" stroke-width="1.05"/>
<text transform="translate(311.4,29.6) scale(0.67,1)" x="-0.63" y="0" style="font-size:14.11px;font-weight:normal;stroke-width:0.65px;">135</text>
<line x1="537.1" y1="31.5" x2="565" y2="31.5" stroke-width="0.92"/>
<line x1="542.5" y1="24.3" x2="542.5" y2="45" stroke-width="0.92"/>
<line x1="561.5" y1="24.3" x2="561.5" y2="45" stroke-width="0.92"/>
<line x1="539.1" y1="34.4" x2="545.1" y2="28.4" stroke-width="1.05"/>
<line x1="558.4" y1="34.4" x2="564.4" y2="28.4" stroke-width="1.05"/>
<text transform="translate(546.4,29.6) scale(0.72,1)" x="-0.59" y="0" style="font-size:13.13px;font-weight:bold;">135</text>
<text transform="translate(270.4,39.6) scale(0.77,1)" x="-0.68" y="0" style="font-size:15.08px;font-weight:normal;stroke-width:0.65px;">5</text>
<line x1="279.3" y1="22.9" x2="279.3" y2="41.6" stroke-width="1.3"/>
<path d="M277.5,29.5 L281.1,29.5 L279.3,36.5 Z" stroke-width="0.3" fill="#050505"/>
<line x1="273.6" y1="41.7" x2="293.6" y2="41.7" stroke-width="1.3"/>
<text transform="translate(592.9,38.9) scale(0.81,1)" x="-0.68" y="0" style="font-size:15.08px;font-weight:normal;stroke-width:0.65px;">5</text>
<line x1="586.9" y1="25" x2="586.9" y2="41.4" stroke-width="1.3"/>
<path d="M585.1,30 L588.7,30 L586.9,36.5 Z" stroke-width="0.3" fill="#050505"/>
<line x1="575.7" y1="41.4" x2="597.9" y2="41.4" stroke-width="1.3"/>
<text transform="translate(276.4,126.4) scale(0.8,1)" x="-0.55" y="0" style="font-size:12.29px;font-weight:normal;stroke-width:0.6px;">V</text>
<line x1="274.4" y1="115.5" x2="283" y2="115.5" stroke-width="1.2"/>
<line x1="274.4" y1="128.5" x2="283" y2="128.5" stroke-width="1.2"/>
<path d="M269.3,131.9 L285.7,131.9 L300,117.9" stroke-width="1" fill="none"/>
<line x1="585.5" y1="47" x2="585.5" y2="137" stroke-width="0.92"/>
<line x1="567" y1="63.5" x2="590" y2="63.5" stroke-width="0.92"/>
<line x1="582.85" y1="59.8" x2="587.95" y2="66.4" stroke-width="1.05"/>
<line x1="567" y1="87.5" x2="590" y2="87.5" stroke-width="0.92"/>
<line x1="582.85" y1="83.7" x2="587.95" y2="90.3" stroke-width="1.05"/>
<line x1="567" y1="96.5" x2="590" y2="96.5" stroke-width="0.92"/>
<line x1="582.85" y1="93.3" x2="587.95" y2="99.9" stroke-width="1.05"/>
<line x1="567" y1="120.5" x2="590" y2="120.5" stroke-width="0.92"/>
<line x1="582.85" y1="117.1" x2="587.95" y2="123.7" stroke-width="1.05"/>
<line x1="567" y1="133.5" x2="590" y2="133.5" stroke-width="0.92"/>
<line x1="582.85" y1="130.3" x2="587.95" y2="136.9" stroke-width="1.05"/>
<line x1="582.85" y1="48.6" x2="587.95" y2="55.2" stroke-width="1.05"/>
<line x1="583" y1="51.5" x2="618.6" y2="51.5" stroke-width="0.92"/>
<text transform="translate(581.1,60.6) rotate(-90) scale(0.66,1)" x="-0.58" y="0" style="font-size:12.99px;font-weight:bold;">80</text>
<text transform="translate(581.3,82.1) rotate(-90) scale(0.7,1)" x="-0.61" y="0" style="font-size:13.55px;font-weight:bold;">180</text>
<text transform="translate(581.3,115.2) rotate(-90) scale(0.71,1)" x="-0.61" y="0" style="font-size:13.55px;font-weight:bold;">180</text>
<text transform="translate(581.1,132.3) rotate(-90) scale(0.75,1)" x="-0.58" y="0" style="font-size:12.99px;font-weight:bold;letter-spacing:0.33px;">80</text>
<line x1="613.6" y1="44.3" x2="611" y2="503" stroke-width="0.92"/>
<line x1="611.05" y1="48.6" x2="616.15" y2="55.2" stroke-width="1.05"/>
<line x1="608.45" y1="494.3" x2="613.55" y2="500.9" stroke-width="1.05"/>
<text transform="translate(608.3,260) rotate(-90) scale(0.75,1)" x="-0.62" y="0" style="font-size:13.69px;font-weight:normal;stroke-width:0.65px;letter-spacing:2.26px;">3280</text>
<line x1="388" y1="79.3" x2="386.3" y2="503" stroke-width="0.92"/>
<line x1="380.7" y1="87.5" x2="399.3" y2="87.5" stroke-width="0.92"/>
<line x1="385.42" y1="84.6" x2="390.52" y2="91.2" stroke-width="1.05"/>
<line x1="380.7" y1="101.5" x2="399.3" y2="101.5" stroke-width="0.92"/>
<line x1="385.36" y1="97.8" x2="390.46" y2="104.4" stroke-width="1.05"/>
<line x1="380" y1="425.5" x2="400" y2="425.5" stroke-width="0.92"/>
<line x1="384.06" y1="421.7" x2="389.16" y2="428.3" stroke-width="1.05"/>
<line x1="380" y1="439.5" x2="400" y2="439.5" stroke-width="0.92"/>
<line x1="384.01" y1="436.1" x2="389.11" y2="442.7" stroke-width="1.05"/>
<line x1="383.75" y1="496.3" x2="388.85" y2="502.9" stroke-width="1.05"/>
<text transform="translate(383.9,100) rotate(-90) scale(0.75,1)" x="-0.59" y="0" style="font-size:13.13px;font-weight:bold;letter-spacing:0.11px;">100</text>
<text transform="translate(383.9,277) rotate(-90) scale(0.75,1)" x="-0.65" y="0" style="font-size:14.53px;font-weight:normal;stroke-width:0.65px;letter-spacing:1.67px;">2400</text>
<text transform="translate(383.3,438) rotate(-90) scale(0.75,1)" x="-0.55" y="0" style="font-size:12.29px;font-weight:bold;letter-spacing:0.3px;">100</text>
<text transform="translate(382.3,475) rotate(-90) scale(0.75,1)" x="-0.65" y="0" style="font-size:14.53px;font-weight:normal;stroke-width:0.65px;letter-spacing:2.27px;">450</text>
<text transform="translate(402.1,121.7) scale(0.9,1)" x="-0.63" y="0" style="font-size:14.11px;font-weight:normal;stroke-width:0.65px;">5</text>
<path d="M396.9,124 L415,124 L438.6,101.4" stroke-width="1" fill="none"/>
<text transform="translate(460,121) scale(0.81,1)" x="-0.68" y="0" style="font-size:15.08px;font-weight:normal;stroke-width:0.65px;">6</text>
<path d="M455.7,123.6 L475,123.6 L497.1,100.7" stroke-width="1" fill="none"/>
<text transform="translate(513.6,126) scale(0.9,1)" x="-0.68" y="0" style="font-size:15.08px;font-weight:normal;stroke-width:0.65px;">3</text>
<path d="M508.6,128.6 L528.6,128.6 L547.9,108.6" stroke-width="1" fill="none"/>
<line x1="279.6" y1="236" x2="278.9" y2="504" stroke-width="0.92"/>
<line x1="272" y1="242.5" x2="301" y2="242.5" stroke-width="0.92"/>
<line x1="272" y1="269.5" x2="301" y2="269.5" stroke-width="0.92"/>
<line x1="270.7" y1="500.5" x2="295.5" y2="500.5" stroke-width="0.92"/>
<line x1="277.05" y1="239.1" x2="282.15" y2="245.7" stroke-width="1.05"/>
<line x1="276.95" y1="266.1" x2="282.05" y2="272.7" stroke-width="1.05"/>
<line x1="276.35" y1="496.7" x2="281.45" y2="503.3" stroke-width="1.05"/>
<text transform="translate(278.3,263) rotate(-90) scale(0.75,1)" x="-0.64" y="0" style="font-size:14.25px;font-weight:normal;stroke-width:0.65px;letter-spacing:0.09px;">200</text>
<text transform="translate(278.9,385.7) rotate(-90) scale(0.75,1)" x="-0.68" y="0" style="font-size:15.08px;font-weight:normal;stroke-width:0.65px;letter-spacing:1.31px;">1450</text>
<line x1="300" y1="303.5" x2="360" y2="303.5" stroke-width="0.92"/>
<line x1="339.5" y1="284" x2="339.5" y2="309" stroke-width="0.92"/>
<line x1="356.5" y1="281" x2="356.5" y2="309" stroke-width="0.92"/>
<line x1="302" y1="306.6" x2="308" y2="300.6" stroke-width="1.05"/>
<line x1="336" y1="306.6" x2="342" y2="300.6" stroke-width="1.05"/>
<line x1="353" y1="306.6" x2="359" y2="300.6" stroke-width="1.05"/>
<text transform="translate(326,301.3) scale(0.58,1)" x="-0.59" y="0" style="font-size:13.13px;font-weight:bold;">265</text>
<text transform="translate(342,301.3) scale(0.58,1)" x="-0.59" y="0" style="font-size:13.13px;font-weight:bold;">120</text>
<text transform="translate(489,218.3) scale(0.9,1)" x="-0.62" y="0" style="font-size:13.69px;font-weight:normal;stroke-width:0.65px;">2</text>
<path d="M483.6,219.6 L500,219.6 L516,240" stroke-width="1" fill="none"/>
<line x1="506" y1="301.5" x2="564" y2="301.5" stroke-width="0.92"/>
<line x1="510.5" y1="277" x2="510.5" y2="305" stroke-width="0.92"/>
<line x1="526.5" y1="277" x2="526.5" y2="305" stroke-width="0.92"/>
<line x1="507" y1="304" x2="513" y2="298" stroke-width="1.05"/>
<line x1="523.4" y1="304" x2="529.4" y2="298" stroke-width="1.05"/>
<line x1="556.6" y1="304" x2="562.6" y2="298" stroke-width="1.05"/>
<text transform="translate(512,298.3) scale(0.61,1)" x="-0.58" y="0" style="font-size:12.85px;font-weight:bold;">120</text>
<text transform="translate(528.4,298.3) scale(0.57,1)" x="-0.58" y="0" style="font-size:12.85px;font-weight:bold;">265</text>
<line x1="406" y1="405" x2="563" y2="404" stroke-width="0.92"/>
<line x1="409.5" y1="399" x2="409.5" y2="418" stroke-width="0.92"/>
<line x1="406" y1="408" x2="412" y2="402" stroke-width="1.05"/>
<line x1="455.5" y1="400" x2="455.5" y2="415" stroke-width="0.92"/>
<line x1="452" y1="408" x2="458" y2="402" stroke-width="1.05"/>
<line x1="466.5" y1="400" x2="466.5" y2="415" stroke-width="0.92"/>
<line x1="463.4" y1="408" x2="469.4" y2="402" stroke-width="1.05"/>
<line x1="506.5" y1="400" x2="506.5" y2="416" stroke-width="0.92"/>
<line x1="503" y1="408" x2="509" y2="402" stroke-width="1.05"/>
<line x1="556.4" y1="407" x2="562.4" y2="401" stroke-width="1.05"/>
<text transform="translate(423,401.9) scale(0.75,1)" x="-0.63" y="0" style="font-size:13.97px;font-weight:normal;stroke-width:0.65px;letter-spacing:2.31px;">350</text>
<text transform="translate(457,401.3) scale(0.63,1)" x="-0.59" y="0" style="font-size:13.13px;font-weight:bold;">100</text>
<text transform="translate(482,401.9) scale(0.75,1)" x="-0.63" y="0" style="font-size:13.97px;font-weight:normal;stroke-width:0.65px;letter-spacing:1.65px;">300</text>
<text transform="translate(519,401.9) scale(0.75,1)" x="-0.63" y="0" style="font-size:13.97px;font-weight:normal;stroke-width:0.65px;letter-spacing:0.31px;">410</text>
<text transform="translate(347.1,442.4) scale(0.89,1)" x="-0.63" y="0" style="font-size:13.97px;font-weight:normal;stroke-width:0.65px;">3</text>
<path d="M355.7,444.3 L342.1,444.3 L340.4,447 L315.7,471.4" stroke-width="1" fill="none"/>
<text transform="translate(497.2,480) scale(1.04,1)" x="-0.48" y="0" style="font-size:10.61px;font-weight:normal;stroke-width:0.6px;">V</text>
<line x1="495" y1="471.5" x2="504" y2="471.5" stroke-width="1.2"/>
<line x1="495" y1="481.5" x2="504" y2="481.5" stroke-width="1.2"/>
<text transform="translate(505,480.3) scale(0.9,1)" x="-0.51" y="0" style="font-size:11.32px;font-weight:bold;">н</text>
<path d="M493,484.3 L516,484.3 L528,471" stroke-width="1" fill="none"/>
<line x1="584.5" y1="448.5" x2="584.5" y2="501" stroke-width="0.92"/>
<line x1="568.5" y1="453.5" x2="589" y2="453.5" stroke-width="0.92"/>
<line x1="569.5" y1="479.5" x2="589.5" y2="479.5" stroke-width="0.92"/>
<line x1="567" y1="497.8" x2="618.5" y2="497.5" stroke-width="0.92"/>
<line x1="582.05" y1="450.3" x2="587.15" y2="456.9" stroke-width="1.05"/>
<line x1="582.05" y1="476.6" x2="587.15" y2="483.2" stroke-width="1.05"/>
<line x1="582.05" y1="494.4" x2="587.15" y2="501" stroke-width="1.05"/>
<text transform="translate(581.9,473) rotate(-90) scale(0.75,1)" x="-0.57" y="0" style="font-size:12.57px;font-weight:bold;letter-spacing:0.08px;">180</text>
<text transform="translate(581.3,495.6) rotate(-90) scale(0.73,1)" x="-0.53" y="0" style="font-size:11.73px;font-weight:bold;">120</text>
<line x1="300" y1="522.5" x2="325" y2="522.5" stroke-width="0.92"/>
<line x1="302.5" y1="508.6" x2="302.5" y2="528.6" stroke-width="0.92"/>
<line x1="319.5" y1="506.4" x2="319.5" y2="528" stroke-width="0.92"/>
<line x1="299.9" y1="525.6" x2="305.9" y2="519.6" stroke-width="1.05"/>
<line x1="316.3" y1="525.6" x2="322.3" y2="519.6" stroke-width="1.05"/>
<text transform="translate(305,519.6) scale(0.65,1)" x="-0.6" y="0" style="font-size:13.27px;font-weight:bold;">120</text>
<line x1="539.3" y1="521.5" x2="562.1" y2="521.5" stroke-width="0.92"/>
<line x1="542.5" y1="506.4" x2="542.5" y2="526.4" stroke-width="0.92"/>
<line x1="558.5" y1="506.4" x2="558.5" y2="526.4" stroke-width="0.92"/>
<line x1="539.1" y1="524.4" x2="545.1" y2="518.4" stroke-width="1.05"/>
<line x1="555.6" y1="524.4" x2="561.6" y2="518.4" stroke-width="1.05"/>
<text transform="translate(544.3,519.6) scale(0.67,1)" x="-0.55" y="0" style="font-size:12.15px;font-weight:bold;">120</text>
<text transform="translate(150,552.9) scale(0.75,1)" x="-0.72" y="0" style="font-size:15.92px;font-weight:normal;stroke-width:0.65px;letter-spacing:1.92px;">5 – 5.</text>
<line x1="142" y1="555.3" x2="186" y2="555.1" stroke-width="1"/>
<path d="M114.3,650 L115,601.4 L220,601.8 L220,650 L213.6,650 L211,609 L122.6,608.5 L120.7,650 Z" stroke-width="1.3" fill="none"/>
<line x1="117.6" y1="604.6" x2="118.6" y2="614" stroke-width="1.5"/>
<line x1="115.3" y1="615.6" x2="121.6" y2="619.6" stroke-width="0.9"/>
<line x1="216" y1="604.6" x2="215.4" y2="613.5" stroke-width="1.5"/>
<line x1="219.6" y1="616" x2="212" y2="620.4" stroke-width="0.9"/>
<line x1="135" y1="570.7" x2="135" y2="587.1" stroke-width="1.8"/>
<line x1="135" y1="577.9" x2="155.7" y2="577.9" stroke-width="1.3"/>
<path d="M146,576.5 L146,579.3 L137.5,577.9 Z" stroke-width="0.3" fill="#050505"/>
<text transform="translate(145.7,573.9) scale(0.81,1)" x="-0.68" y="0" style="font-size:15.08px;font-weight:normal;stroke-width:0.65px;">3</text>
<line x1="132.9" y1="645" x2="132.9" y2="662.1" stroke-width="1.8"/>
<line x1="132.9" y1="654.6" x2="152.9" y2="654.6" stroke-width="1.3"/>
<path d="M144,653.2 L144,656 L135.5,654.6 Z" stroke-width="0.3" fill="#050505"/>
<text transform="translate(141.4,667.4) scale(0.9,1)" x="-0.63" y="0" style="font-size:13.97px;font-weight:normal;stroke-width:0.65px;">3</text>
<line x1="197.6" y1="570" x2="197.6" y2="587" stroke-width="1.8"/>
<line x1="177" y1="577.6" x2="197.6" y2="577.6" stroke-width="1.3"/>
<path d="M188,576.2 L188,579 L196,577.6 Z" stroke-width="0.3" fill="#050505"/>
<text transform="translate(183.2,575.3) scale(0.65,1)" x="-0.8" y="0" style="font-size:17.88px;font-weight:normal;stroke-width:0.65px;font-style:italic;">1</text>
<line x1="197" y1="646" x2="197" y2="662" stroke-width="1.8"/>
<line x1="174" y1="654" x2="197" y2="654" stroke-width="1.3"/>
<path d="M187.5,652.6 L187.5,655.4 L195.5,654 Z" stroke-width="0.3" fill="#050505"/>
<text transform="translate(183,668.3) scale(0.68,1)" x="-0.74" y="0" style="font-size:16.48px;font-weight:normal;stroke-width:0.65px;font-style:italic;">1</text>
<text transform="translate(79.3,590.3) scale(0.64,1)" x="-0.86" y="0" style="font-size:19.13px;font-weight:normal;stroke-width:0.65px;">4</text>
<line x1="91.4" y1="574.3" x2="91.4" y2="592.9" stroke-width="1.3"/>
<path d="M89.6,582 L93.2,582 L91.4,588.6 Z" stroke-width="0.3" fill="#050505"/>
<line x1="82.9" y1="592.4" x2="103.6" y2="592.4" stroke-width="1.3"/>
<text transform="translate(257,589.3) scale(0.72,1)" x="-0.8" y="0" style="font-size:17.88px;font-weight:normal;stroke-width:0.65px;">4</text>
<line x1="252" y1="574" x2="252" y2="592" stroke-width="1.3"/>
<path d="M250.2,581 L253.8,581 L252,588 Z" stroke-width="0.3" fill="#050505"/>
<line x1="239" y1="591.6" x2="260" y2="591.6" stroke-width="1.3"/>
<text transform="translate(80,688.9) scale(0.86,1)" x="-0.72" y="0" style="font-size:16.06px;font-weight:normal;stroke-width:0.65px;">2</text>
<line x1="90.4" y1="673.6" x2="90.4" y2="691.4" stroke-width="1.3"/>
<path d="M88.6,685.6 L92.2,685.6 L90.4,678 Z" stroke-width="0.3" fill="#050505"/>
<line x1="82.1" y1="673.6" x2="102.9" y2="673.6" stroke-width="1.3"/>
<text transform="translate(255,689.3) scale(0.78,1)" x="-0.74" y="0" style="font-size:16.48px;font-weight:normal;stroke-width:0.65px;">2</text>
<line x1="251" y1="673" x2="251" y2="689" stroke-width="1.3"/>
<path d="M249.2,685 L252.8,685 L251,677.6 Z" stroke-width="0.3" fill="#050505"/>
<line x1="238" y1="673" x2="257" y2="673" stroke-width="1.3"/>
<line x1="97.9" y1="582.5" x2="126.4" y2="582.5" stroke-width="0.92"/>
<line x1="114.5" y1="578" x2="114.5" y2="594" stroke-width="0.92"/>
<line x1="122.5" y1="579" x2="122.5" y2="597" stroke-width="0.92"/>
<line x1="112.2" y1="584.5" x2="117" y2="579.7" stroke-width="1.05"/>
<line x1="119.7" y1="584.5" x2="124.5" y2="579.7" stroke-width="1.05"/>
<text transform="translate(99.3,581) scale(0.72,1)" x="-0.59" y="0" style="font-size:13.13px;font-weight:bold;">135</text>
<line x1="207" y1="583.5" x2="240" y2="583.5" stroke-width="0.92"/>
<line x1="210.5" y1="577" x2="210.5" y2="597" stroke-width="0.92"/>
<line x1="219.5" y1="577" x2="219.5" y2="597" stroke-width="0.92"/>
<line x1="208.2" y1="585.4" x2="213" y2="580.6" stroke-width="1.05"/>
<line x1="217.2" y1="585.4" x2="222" y2="580.6" stroke-width="1.05"/>
<text transform="translate(226,581.3) scale(0.72,1)" x="-0.59" y="0" style="font-size:13.13px;font-weight:bold;">135</text>
<line x1="95" y1="666.5" x2="125.7" y2="666.5" stroke-width="0.92"/>
<line x1="114.5" y1="656.4" x2="114.5" y2="687.9" stroke-width="0.92"/>
<line x1="120.5" y1="660" x2="120.5" y2="672" stroke-width="0.92"/>
<line x1="112.2" y1="669.3" x2="117" y2="664.5" stroke-width="1.05"/>
<line x1="117.9" y1="669.3" x2="122.7" y2="664.5" stroke-width="1.05"/>
<text transform="translate(99.3,665.3) scale(0.67,1)" x="-0.55" y="0" style="font-size:12.15px;font-weight:bold;">120</text>
<line x1="209" y1="667.5" x2="242" y2="667.5" stroke-width="0.92"/>
<line x1="213.5" y1="658" x2="213.5" y2="673" stroke-width="0.92"/>
<line x1="219.5" y1="658" x2="219.5" y2="688" stroke-width="0.92"/>
<line x1="210.6" y1="669.4" x2="215.4" y2="664.6" stroke-width="1.05"/>
<line x1="217.2" y1="669.4" x2="222" y2="664.6" stroke-width="1.05"/>
<text transform="translate(224,666.3) scale(0.75,1)" x="-0.55" y="0" style="font-size:12.29px;font-weight:bold;letter-spacing:2.3px;">120</text>
<line x1="111.4" y1="684.3" x2="223" y2="684.2" stroke-width="0.92"/>
<line x1="111.6" y1="687.3" x2="117.6" y2="681.3" stroke-width="1.05"/>
<line x1="216.6" y1="687.2" x2="222.6" y2="681.2" stroke-width="1.05"/>
<text transform="translate(152,682.9) scale(0.75,1)" x="-0.59" y="0" style="font-size:13.13px;font-weight:bold;letter-spacing:1.77px;">1970</text>
<line x1="240.5" y1="597" x2="240.5" y2="614" stroke-width="0.92"/>
<line x1="223" y1="601.5" x2="265" y2="601.5" stroke-width="0.92"/>
<line x1="236" y1="610.5" x2="247" y2="610.5" stroke-width="0.92"/>
<line x1="224" y1="650.5" x2="265" y2="650.5" stroke-width="0.92"/>
<line x1="237.96" y1="599.06" x2="242.04" y2="604.34" stroke-width="1.05"/>
<line x1="237.96" y1="607.36" x2="242.04" y2="612.64" stroke-width="1.05"/>
<text transform="translate(238.3,624) rotate(-90) scale(0.75,1)" x="-0.52" y="0" style="font-size:11.45px;font-weight:bold;letter-spacing:0.96px;">120</text>
<line x1="239.5" y1="609" x2="239.5" y2="625" stroke-width="0.7"/>
<line x1="259.5" y1="597" x2="259.5" y2="654" stroke-width="0.92"/>
<line x1="257.05" y1="598.4" x2="262.15" y2="605" stroke-width="1.05"/>
<line x1="257.05" y1="646.7" x2="262.15" y2="653.3" stroke-width="1.05"/>
<text transform="translate(257.9,633) rotate(-90) scale(0.75,1)" x="-0.62" y="0" style="font-size:13.69px;font-weight:normal;stroke-width:0.65px;letter-spacing:1.87px;">925</text>
</g>
</svg>
</body>
</html>
